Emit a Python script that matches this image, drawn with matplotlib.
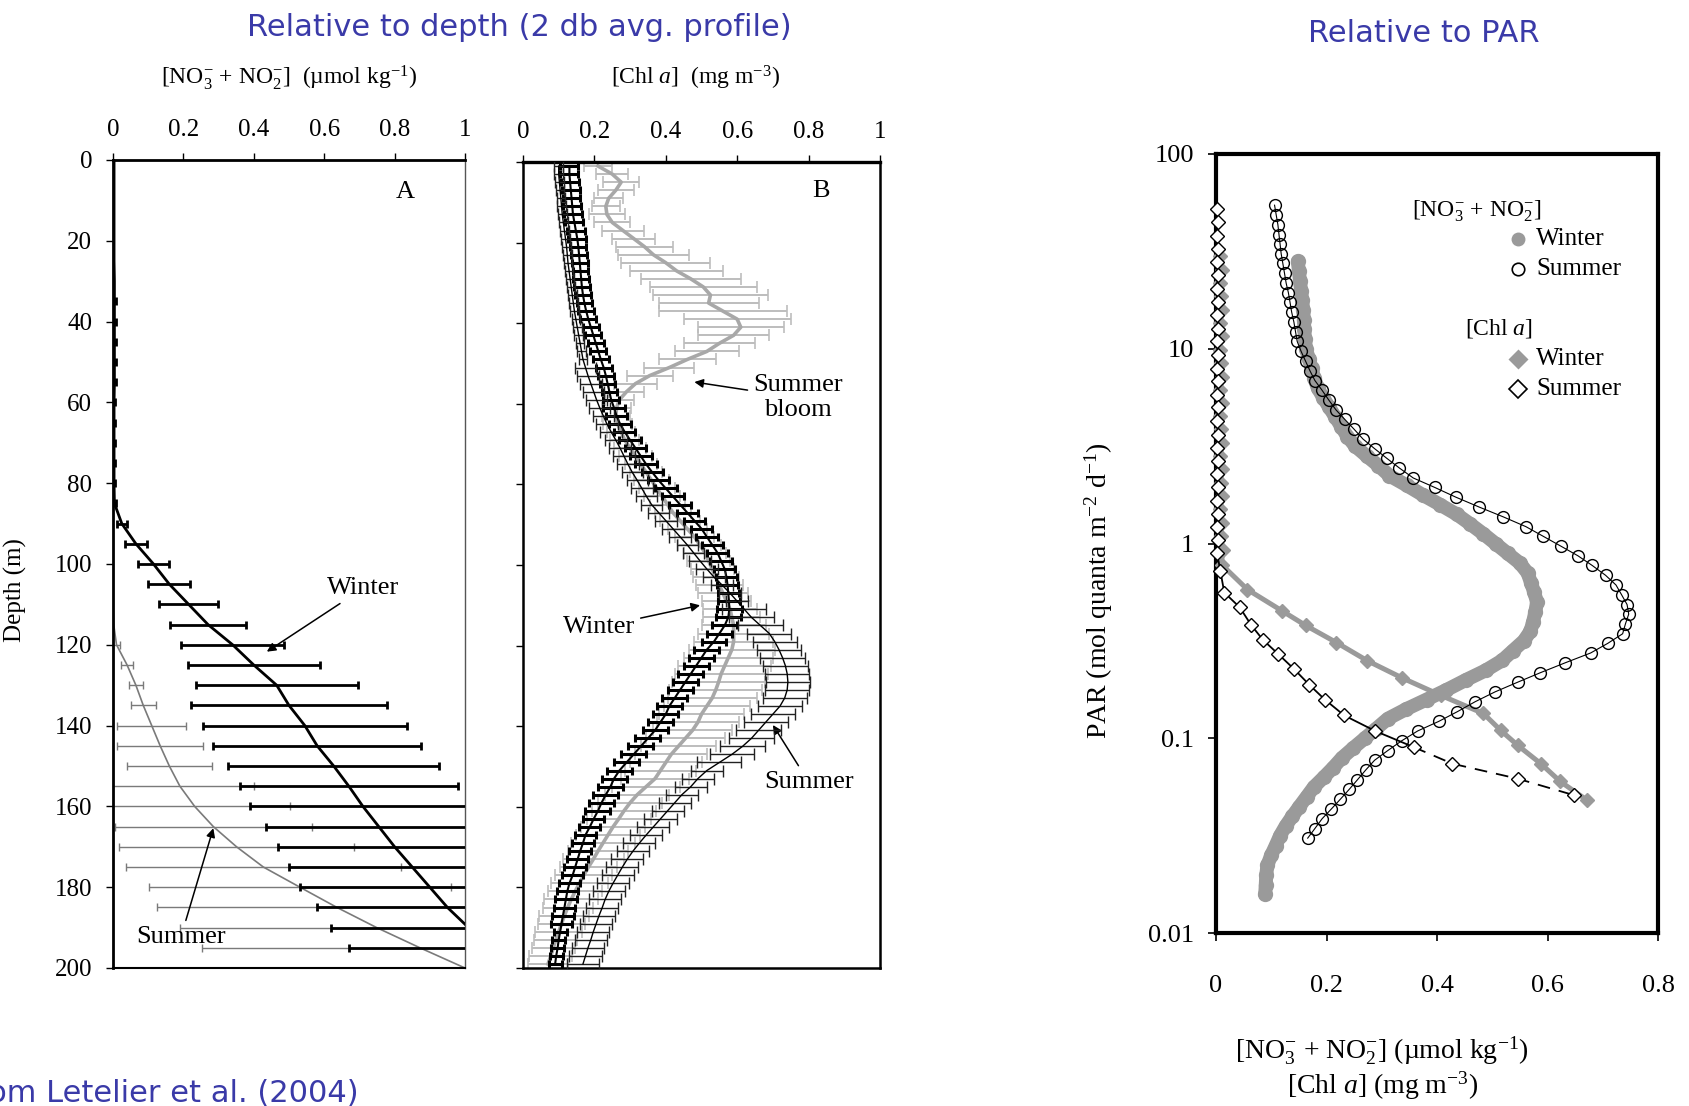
import numpy as np
import matplotlib
matplotlib.use("Agg")
import matplotlib.pyplot as plt
from matplotlib.ticker import NullLocator

plt.rcParams['font.family'] = ['Liberation Serif', 'DejaVu Serif']
plt.rcParams['mathtext.fontset'] = 'custom'
plt.rcParams['mathtext.rm'] = 'Liberation Serif'
plt.rcParams['mathtext.it'] = 'Liberation Serif:italic'
plt.rcParams['mathtext.bf'] = 'Liberation Serif:bold'

NAN = np.nan

# ---------------- Panel A : nitrate vs depth ----------------
a_depth = list(range(0, 201, 5))
a_winter = [0.003, 0.003, 0.003, 0.003, 0.003, 0.003, 0.004, 0.004, 0.004, 0.004,
            0.004, 0.004, 0.003, 0.003, 0.003, 0.003, 0.003, 0.004, 0.025, 0.065,
            0.115, 0.16, 0.215, 0.27, 0.34, 0.40, 0.465, 0.50, 0.545, 0.58,
            0.627, 0.67, 0.71, 0.755, 0.80, 0.85, 0.90, 0.95, 1.01, 1.07, 1.13]
a_winter_err = [NAN, NAN, NAN, NAN, NAN, NAN, NAN, 0.004, 0.005, 0.005,
                0.005, 0.005, 0.004, 0.004, 0.004, 0.004, 0.004, 0.004, 0.014, 0.032,
                0.044, 0.06, 0.084, 0.107, 0.147, 0.187, 0.23, 0.277, 0.29, 0.295,
                0.30, 0.31, 0.32, 0.32, 0.33, 0.35, 0.37, 0.37, 0.39, 0.40, NAN]
a_summer = [0.0, 0.0, 0.0, 0.0, 0.0, 0.0, 0.0, 0.0, 0.0, 0.0,
            0.0, 0.0, 0.0, 0.0, 0.0, 0.0, 0.0, 0.0, 0.0, 0.0,
            0.0, 0.0, 0.0, 0.002, 0.01, 0.04, 0.065, 0.086, 0.11, 0.134,
            0.16, 0.19, 0.232, 0.285, 0.351, 0.427, 0.531, 0.636, 0.749, 0.872, 1.0]
a_summer_err = [NAN] * 24 + [0.01, 0.016, 0.019, 0.036, 0.098, 0.123, 0.121, 0.21,
                             0.27, 0.28, 0.335, 0.39, 0.43, 0.51, 0.56, 0.62, NAN]

# ---------------- Panel B : Chl a vs depth (2 db bins) ----------------
b_depth = list(range(1, 200, 2))
b_winter = [0.13, 0.13, 0.132, 0.134, 0.136, 0.138, 0.14, 0.144, 0.148, 0.152,
            0.155, 0.157, 0.159, 0.161, 0.163, 0.165, 0.168, 0.172, 0.177, 0.183,
            0.19, 0.197, 0.204, 0.211, 0.218, 0.226, 0.232, 0.237, 0.242, 0.247,
            0.255, 0.262, 0.272, 0.285, 0.30, 0.315, 0.33, 0.345, 0.362, 0.38,
            0.40, 0.42, 0.44, 0.46, 0.48, 0.50, 0.515, 0.53, 0.545, 0.555,
            0.565, 0.57, 0.573, 0.575, 0.577, 0.578, 0.575, 0.565, 0.55, 0.535,
            0.515, 0.50, 0.485, 0.47, 0.455, 0.44, 0.425, 0.41, 0.40, 0.385,
            0.37, 0.35, 0.33, 0.31, 0.29, 0.27, 0.255, 0.245, 0.232, 0.22,
            0.21, 0.198, 0.187, 0.175, 0.168, 0.16, 0.153, 0.146, 0.139, 0.13,
            0.124, 0.12, 0.116, 0.112, 0.108, 0.104, 0.10, 0.097, 0.093, 0.09]
b_winter_err = ([0.025] * 10 + [0.022] * 15 + [0.022] * 5 + [0.03] * 25
                + [0.035] * 26 + [0.03] * 14 + [0.018] * 5)
b_summer = [0.10, 0.10, 0.102, 0.104, 0.106, 0.108, 0.11, 0.113, 0.116, 0.119,
            0.122, 0.124, 0.126, 0.129, 0.132, 0.135, 0.138, 0.141, 0.144, 0.148,
            0.152, 0.156, 0.16, 0.164, 0.168, 0.175, 0.182, 0.19, 0.198, 0.206,
            0.215, 0.225, 0.235, 0.247, 0.26, 0.272, 0.283, 0.294, 0.306, 0.32,
            0.333, 0.346, 0.36, 0.38, 0.40, 0.42, 0.44, 0.46, 0.478, 0.496,
            0.515, 0.535, 0.558, 0.58, 0.60, 0.62, 0.64, 0.665, 0.69, 0.705,
            0.717, 0.727, 0.735, 0.74, 0.742, 0.74, 0.733, 0.72, 0.70, 0.68,
            0.66, 0.64, 0.615, 0.585, 0.55, 0.515, 0.49, 0.47, 0.445, 0.425,
            0.405, 0.385, 0.365, 0.345, 0.326, 0.308, 0.292, 0.278, 0.265, 0.252,
            0.24, 0.23, 0.222, 0.213, 0.205, 0.197, 0.19, 0.182, 0.175, 0.168]
b_summer_err = [0.012] * 25 + [0.03] * 30 + [0.062] * 20 + [0.045] * 25
b_bloom = [0.21, 0.25, 0.275, 0.26, 0.24, 0.232, 0.235, 0.25, 0.28, 0.31,
           0.34, 0.365, 0.40, 0.43, 0.47, 0.505, 0.525, 0.52, 0.56, 0.60,
           0.61, 0.59, 0.55, 0.515, 0.46, 0.41, 0.355, 0.315, 0.29, 0.27,
           0.262, 0.26, 0.265, 0.275, 0.285, 0.30, 0.315, 0.33, 0.345, 0.36,
           0.375, 0.39, 0.405, 0.42, 0.44, 0.46, 0.48, 0.495, 0.51, 0.52,
           0.53, 0.54, 0.55, 0.56, 0.57, 0.58, 0.585, 0.59, 0.59, 0.59,
           0.585, 0.575, 0.565, 0.555, 0.548, 0.54, 0.53, 0.515, 0.50, 0.49,
           0.475, 0.455, 0.435, 0.415, 0.40, 0.385, 0.37, 0.345, 0.32, 0.30,
           0.283, 0.268, 0.252, 0.238, 0.224, 0.21, 0.197, 0.183, 0.17, 0.158,
           0.146, 0.135, 0.125, 0.116, 0.108, 0.10, 0.092, 0.085, 0.078, 0.07]
b_bloom_err = [0.04, 0.045, 0.05, 0.05, 0.04, 0.04, 0.05, 0.05, 0.06, 0.06,
               0.08, 0.10, 0.125, 0.13, 0.14, 0.15, 0.16, 0.14, 0.18, 0.15,
               0.12, 0.10, 0.10, 0.09, 0.08, 0.07, 0.065, 0.06, 0.05, 0.04,
               0.04, 0.04, 0.04, 0.04, 0.04, 0.045, 0.045, 0.045, 0.045, 0.05,
               0.05, 0.05, 0.05, 0.05, 0.055, 0.055, 0.055, 0.06, 0.06, 0.06,
               0.06, 0.065, 0.065, 0.07, 0.07, 0.075, 0.08, 0.09, 0.10, 0.11,
               0.12, 0.125, 0.13, 0.13, 0.13, 0.13, 0.125, 0.12, 0.12, 0.115,
               0.11, 0.11, 0.105, 0.10, 0.10, 0.10, 0.095, 0.095, 0.09, 0.09,
               0.09, 0.09, 0.09, 0.09, 0.09, 0.085, 0.085, 0.08, 0.08, 0.08,
               0.075, 0.075, 0.07, 0.07, 0.065, 0.065, 0.06, 0.06, 0.06, 0.055]

depth_ticks = [0, 20, 40, 60, 80, 100, 120, 140, 160, 180, 200]
ab_xticks = [0, 0.2, 0.4, 0.6, 0.8, 1.0]
ab_xticklabels = ['0', '0.2', '0.4', '0.6', '0.8', '1']

# ---------------- Panel C : relative to PAR ----------------
c_no3_s_par = [54.6, 48.6, 43.4, 38.6, 34.4, 30.7, 27.4, 24.4, 21.7, 19.4,
               17.3, 15.4, 13.7, 12.2, 10.9, 9.70, 8.65, 7.71, 6.87, 6.12,
               5.46, 4.86, 4.34, 3.86, 3.44, 3.07, 2.74, 2.44, 2.17, 1.94,
               1.73, 1.54, 1.37, 1.22, 1.09, 0.970, 0.865, 0.771, 0.687, 0.612,
               0.546, 0.486, 0.434, 0.386, 0.344, 0.307, 0.274, 0.244, 0.217, 0.194,
               0.173, 0.154, 0.137, 0.122, 0.109, 0.0970, 0.0865, 0.0771, 0.0687, 0.0612,
               0.0546, 0.0486, 0.0434, 0.0386, 0.0344, 0.0307]
c_no3_s = [0.106, 0.109, 0.112, 0.114, 0.116, 0.118, 0.121, 0.124, 0.127, 0.131,
           0.134, 0.137, 0.141, 0.144, 0.147, 0.154, 0.162, 0.170, 0.179, 0.192,
           0.204, 0.217, 0.233, 0.250, 0.266, 0.287, 0.309, 0.332, 0.357, 0.396,
           0.434, 0.476, 0.520, 0.561, 0.592, 0.624, 0.655, 0.681, 0.705, 0.724,
           0.734, 0.744, 0.747, 0.741, 0.736, 0.709, 0.678, 0.632, 0.587, 0.546,
           0.505, 0.469, 0.437, 0.403, 0.365, 0.336, 0.311, 0.287, 0.271, 0.256,
           0.241, 0.225, 0.209, 0.192, 0.179, 0.166]
c_no3_w_par = [28.1, 25.1, 22.3, 19.9, 17.7, 15.8, 14.1, 12.6, 11.2, 9.98,
               8.89, 7.93, 7.06, 6.30, 5.61, 5.00, 4.46, 3.97, 3.54, 3.16,
               2.81, 2.51, 2.23, 1.99, 1.77, 1.58, 1.41, 1.26, 1.12, 0.998,
               0.889, 0.793, 0.706, 0.630, 0.561, 0.500, 0.446, 0.397, 0.354, 0.316,
               0.281, 0.251, 0.223, 0.199, 0.177, 0.158, 0.141, 0.126, 0.112, 0.0998,
               0.0889, 0.0793, 0.0706, 0.0630, 0.0561, 0.0500, 0.0446, 0.0397, 0.0354, 0.0316,
               0.0281, 0.0251, 0.0223, 0.0199, 0.0177, 0.0158]
c_no3_w = [0.148, 0.150, 0.152, 0.154, 0.156, 0.158, 0.159, 0.160, 0.161, 0.163,
           0.168, 0.173, 0.178, 0.184, 0.194, 0.205, 0.216, 0.227, 0.238, 0.252,
           0.273, 0.294, 0.314, 0.345, 0.375, 0.406, 0.436, 0.460, 0.484, 0.506,
           0.528, 0.550, 0.564, 0.570, 0.576, 0.581, 0.578, 0.574, 0.569, 0.557,
           0.537, 0.518, 0.488, 0.452, 0.417, 0.381, 0.344, 0.311, 0.290, 0.269,
           0.248, 0.228, 0.212, 0.195, 0.177, 0.164, 0.151, 0.138, 0.126, 0.116,
           0.108, 0.100, 0.093, 0.091, 0.090, 0.089]
c_chl_s_par = [52, 44.5, 38, 32.5, 27.8, 23.8, 20.3, 17.4, 14.9, 12.7,
               10.9, 9.3, 7.9, 6.8, 5.8, 5.0, 4.25, 3.6, 3.1, 2.66,
               2.27, 1.94, 1.66, 1.42, 1.21, 1.04, 0.89, 0.72, 0.56, 0.47,
               0.38, 0.32, 0.27, 0.227, 0.188, 0.158, 0.131, 0.109, 0.090, 0.074,
               0.062, 0.051]
c_chl_s = [0.002, 0.004, 0.001, 0.003, 0.002, 0.004, 0.001, 0.003, 0.002, 0.004,
           0.002, 0.003, 0.001, 0.004, 0.002, 0.003, 0.002, 0.004, 0.001, 0.003,
           0.002, 0.004, 0.002, 0.003, 0.001, 0.003, 0.002, 0.008, 0.015, 0.043,
           0.064, 0.085, 0.113, 0.141, 0.169, 0.197, 0.232, 0.288, 0.358, 0.428,
           0.546, 0.648]
c_chl_w_par = [30, 25.5, 21.8, 18.6, 15.9, 13.6, 11.6, 9.9, 8.45, 7.2,
               6.15, 5.25, 4.5, 3.85, 3.3, 2.8, 2.4, 2.05, 1.75, 1.5,
               1.28, 1.09, 0.93, 0.78, 0.58, 0.45, 0.38, 0.31, 0.25, 0.204,
               0.166, 0.134, 0.11, 0.092, 0.074, 0.060, 0.048]
c_chl_w = [0.008, 0.010, 0.007, 0.009, 0.011, 0.008, 0.010, 0.007, 0.009, 0.011,
           0.008, 0.010, 0.007, 0.009, 0.011, 0.008, 0.010, 0.009, 0.011, 0.008,
           0.010, 0.009, 0.012, 0.010, 0.057, 0.12, 0.162, 0.218, 0.274, 0.337,
           0.407, 0.484, 0.515, 0.546, 0.588, 0.623, 0.672]
c_yticks = [0.01, 0.1, 1, 10, 100]
c_yticklabels = ['0.01', '0.1', '1', '10', '100']
c_xticks = [0, 0.2, 0.4, 0.6, 0.8]
c_xticklabels = ['0', '0.2', '0.4', '0.6', '0.8']

NO3_LABEL = r"[NO$_3^{-}$ + NO$_2^{-}$]"
GRAY = '#9a9a9a'
BLUE = '#3a3aa8'

W, H = 1689, 1106
fig = plt.figure(figsize=(W / 100, H / 100), dpi=100)

def fax(x0, y0, x1, y1):
    return [x0 / W, 1 - y1 / H, (x1 - x0) / W, (y1 - y0) / H]

axA = fig.add_axes(fax(113, 160, 465, 968))
axB = fig.add_axes(fax(523, 162, 880, 968))
axC = fig.add_axes(fax(1216, 154, 1658, 933))

# ---- Panel A ----
axA.errorbar(a_summer, a_depth, xerr=a_summer_err, fmt='none', ecolor='#7a7a7a',
             elinewidth=1.0, capsize=3, capthick=1.0, zorder=2)
axA.plot(a_summer, a_depth, color='#7a7a7a', lw=1.2, zorder=2)
axA.errorbar(a_winter, a_depth, xerr=a_winter_err, fmt='none', ecolor='black',
             elinewidth=2.0, capsize=3, capthick=2.0, zorder=3)
axA.plot(a_winter, a_depth, color='black', lw=2.0, zorder=3)

# ---- Panel B ----
axB.errorbar(b_bloom, b_depth, xerr=b_bloom_err, fmt='none', ecolor='#bdbdbd',
             elinewidth=1.4, capsize=4, capthick=1.2, zorder=2)
axB.plot(b_bloom, b_depth, color='#a8a8a8', lw=2.6, zorder=2.1)
axB.errorbar(b_winter, b_depth, xerr=b_winter_err, fmt='none', ecolor='black',
             elinewidth=2.2, capsize=3, capthick=2.2, zorder=3)
axB.plot(b_winter, b_depth, color='black', lw=1.5, zorder=3)
axB.errorbar(b_summer, b_depth, xerr=b_summer_err, fmt='none', ecolor='#222222',
             elinewidth=1.0, capsize=4, capthick=1.0, zorder=3.2)
axB.plot(b_summer, b_depth, color='black', lw=1.0, zorder=3.3)

for ax in (axA, axB):
    ax.set_xlim(0, 1)
    ax.set_ylim(200, 0)
    ax.xaxis.tick_top()
    ax.set_xticks(ab_xticks)
    ax.set_xticklabels(ab_xticklabels)
    ax.set_yticks(depth_ticks)
    ax.tick_params(axis='both', direction='out', length=5, width=1.0,
                   labelsize=18, pad=9)
    ax.tick_params(axis='y', pad=10)

axB.set_yticklabels([])
axA.spines['top'].set_linewidth(2.0)
axA.spines['left'].set_linewidth(2.0)
axA.spines['right'].set_linewidth(1.0)
axA.spines['right'].set_color('#555555')
axA.spines['bottom'].set_linewidth(1.5)
for s in axB.spines.values():
    s.set_linewidth(1.8)
axB.spines['top'].set_linewidth(2.4)

axA.text(0.5, 1.102, NO3_LABEL + r"  (µmol kg$^{-1}$)", transform=axA.transAxes,
         ha='center', va='center', fontsize=17)
axB.text(0.482, 1.104, r"[Chl $a$]  (mg m$^{-3}$)", transform=axB.transAxes,
         ha='center', va='center', fontsize=17)
axA.set_ylabel('Depth (m)', fontsize=18)
axA.yaxis.set_label_coords(-0.244, 0.468)

axA.text(0.83, 7.8, 'A', fontsize=19, ha='center', va='center')
axB.text(0.835, 7.2, 'B', fontsize=19, ha='center', va='center')

arrow = dict(arrowstyle='-|>', color='black', lw=1.1, mutation_scale=13,
             shrinkA=2, shrinkB=0)
axA.annotate('Winter', xy=(0.437, 121.7), xytext=(0.711, 106), fontsize=19,
             ha='center', va='center', arrowprops=arrow)
axA.annotate('Summer', xy=(0.285, 165.4), xytext=(0.193, 192.3), fontsize=19,
             ha='center', va='center', arrowprops=arrow)
axB.annotate('Summer\nbloom', xy=(0.48, 54.6), xytext=(0.77, 58.5), fontsize=19,
             ha='center', va='center', linespacing=1.15, arrowprops=arrow)
axB.annotate('Winter', xy=(0.496, 110), xytext=(0.213, 115.4), fontsize=19,
             ha='center', va='center', arrowprops=arrow)
axB.annotate('Summer', xy=(0.70, 139.7), xytext=(0.80, 153.8), fontsize=19,
             ha='center', va='center', arrowprops=arrow)

# ---- Panel C ----
axC.set_yscale('log')
axC.plot(c_chl_w, c_chl_w_par, color=GRAY, lw=3.6, marker='D', ms=7.5,
         mfc=GRAY, mec=GRAY, clip_on=False, zorder=3)
axC.plot(c_no3_w, c_no3_w_par, color=GRAY, lw=10, solid_capstyle='round',
         solid_joinstyle='round', marker='o', ms=11, mfc=GRAY, mec='none',
         clip_on=False, zorder=3.2)
axC.plot(c_no3_s, c_no3_s_par, color='black', lw=0.8, marker='o', ms=8.5, mfc='none',
         mec='black', mew=1.0, clip_on=False, zorder=3.4)
n_solid = 39
axC.plot(c_chl_s[:n_solid], c_chl_s_par[:n_solid], color='black', lw=1.3,
         clip_on=False, zorder=3.6)
axC.plot(c_chl_s[n_solid - 1:], c_chl_s_par[n_solid - 1:], color='black', lw=1.3,
         ls=(0, (7, 5)), clip_on=False, zorder=3.6)
axC.plot(c_chl_s, c_chl_s_par, ls='none', marker='D', ms=7, mfc='white',
         mec='black', mew=1.0, clip_on=False, zorder=3.7)

axC.set_xlim(0, 0.8)
axC.set_ylim(0.01, 100)
axC.set_yticks(c_yticks)
axC.set_yticklabels(c_yticklabels)
axC.yaxis.set_minor_locator(NullLocator())
axC.set_xticks(c_xticks)
axC.set_xticklabels(c_xticklabels)
axC.tick_params(axis='both', direction='out', length=6, width=1.2, labelsize=19)
axC.tick_params(axis='x', pad=24)
axC.tick_params(axis='y', pad=10)
for s in axC.spines.values():
    s.set_linewidth(3.0)

axC.set_ylabel(r"PAR (mol quanta m$^{-2}$ d$^{-1}$)", fontsize=20)
axC.yaxis.set_label_coords(-0.229, 0.44)
axC.set_xlabel(NO3_LABEL + r" (µmol kg$^{-1}$)" + "\n" + r"[Chl $a$] (mg m$^{-3}$)",
               fontsize=20, linespacing=1.1)
axC.xaxis.set_label_coords(0.376, -0.13)

# legend (manual layout)
tr = axC.transAxes
axC.text(0.59, 0.926, NO3_LABEL, transform=tr, fontsize=17, ha='center', va='center')
axC.plot([0.683], [0.891], transform=tr, marker='o', ms=10, mfc=GRAY, mec='none',
         clip_on=False)
axC.text(0.725, 0.891, 'Winter', transform=tr, fontsize=18, ha='left', va='center')
axC.plot([0.683], [0.852], transform=tr, marker='o', ms=9, mfc='none', mec='black',
         mew=1.2, clip_on=False)
axC.text(0.725, 0.852, 'Summer', transform=tr, fontsize=18, ha='left', va='center')
axC.text(0.64, 0.776, r"[Chl $a$]", transform=tr, fontsize=17, ha='center', va='center')
axC.plot([0.683], [0.737], transform=tr, marker='D', ms=10, mfc=GRAY, mec='none',
         clip_on=False)
axC.text(0.725, 0.737, 'Winter', transform=tr, fontsize=18, ha='left', va='center')
axC.plot([0.683], [0.698], transform=tr, marker='D', ms=9, mfc='none', mec='black',
         mew=1.2, clip_on=False)
axC.text(0.725, 0.698, 'Summer', transform=tr, fontsize=18, ha='left', va='center')

# ---- figure titles ----
fig.text(519 / W, 1 - 27 / H, 'Relative to depth (2 db avg. profile)', color=BLUE,
         fontsize=22, ha='center', va='center', family=['DejaVu Sans'])
fig.text(1424 / W, 1 - 34 / H, 'Relative to PAR', color=BLUE,
         fontsize=22, ha='center', va='center', family=['DejaVu Sans'])
fig.text(359 / W, 1 - 1094 / H, 'From Letelier et al. (2004)', color=BLUE,
         fontsize=22, ha='right', va='center', family=['DejaVu Sans'])

fig.savefig('out.png', dpi=100, facecolor='white')
